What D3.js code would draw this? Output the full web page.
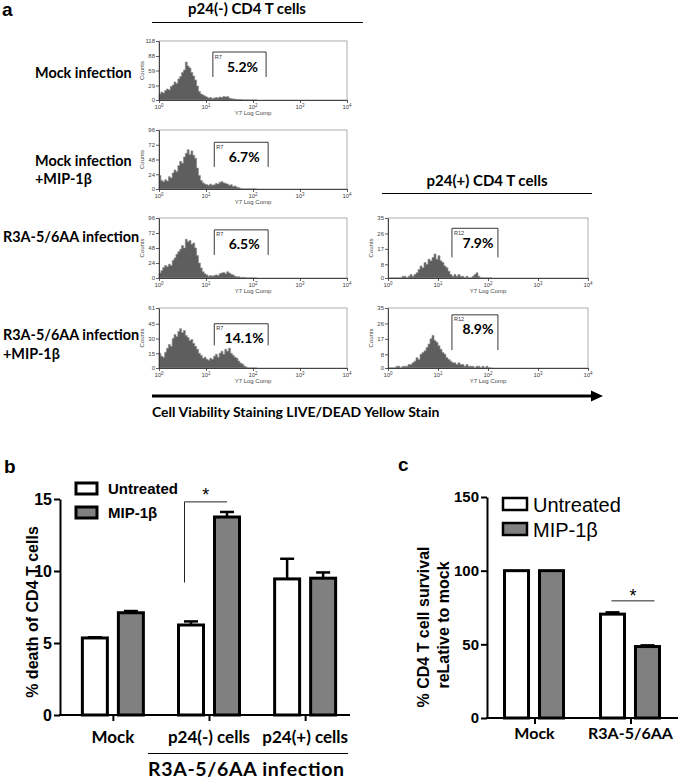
<!DOCTYPE html>
<html><head><meta charset="utf-8">
<script src="https://cdn.jsdelivr.net/npm/d3@7"></script>
<style>body{margin:0;background:#fff} svg{display:block}</style>
</head><body>
<svg id="chart" width="680" height="780"></svg>
<script>
// ================= DATA =================
// Panel a: flow histograms (counts per bin, bins of 0.04 decade starting at 10^0)
const histBinDecades = 0.04;
const hist1 = [12,16,14,19,22,20,27,30,36,33,42,47,55,60,76,68,64,55,48,40,28,17,12,10,8,6,4,5,3,4,5,4,6,5,7,6,7,4,3,2,2,1,1,1,0,0,0,0,0,0,0,0];
const hist2 = [22,14,12,15,13,20,18,26,31,28,38,45,42,52,58,64,56,62,55,50,34,22,14,10,8,7,6,8,6,7,9,8,11,12,10,9,8,6,7,4,5,3,2,1,0,0,0,0,0,0,0,0];
const hist3 = [8,12,17,20,18,22,20,28,32,38,42,46,52,48,62,58,60,54,56,48,36,24,16,10,7,5,3,4,3,4,5,4,7,8,9,7,10,8,6,5,3,2,2,1,1,1,0,0,0,0,0,0];
const hist4 = [15,12,11,16,20,24,22,30,34,32,37,40,36,38,33,31,28,29,25,22,19,15,13,10,11,9,8,10,9,12,14,11,15,17,14,19,17,20,15,13,11,10,7,5,4,2,1,0,0,0,0,0];
const hist5 = [0,0,0,0,0,0,0,1,1,0,1,2,1,2,3,5,7,6,9,8,11,10,12,14,11,13,10,9,7,6,4,2,1,2,1,2,1,1,0,1,0,0,1,2,3,1,0,0,0,0,0,0];
const hist6 = [0,0,0,0,1,1,0,1,1,1,2,2,3,4,6,5,8,9,10,12,14,17,19,16,15,13,11,9,8,6,5,4,3,3,2,3,2,2,1,2,1,1,1,0,1,1,0,1,0,1,0,0];
const histSeries = [hist1, hist2, hist3, hist4, hist5, hist6];
const histMax = [118, 96, 96, 61, 35, 35];
const histYTicks = [[0,29,59,88,118],[0,24,48,72,96],[0,24,48,72,96],[0,15,30,45,61],[0,8,17,26,35],[0,8,17,26,35]];
const histXTicks = [1, 10, 100, 1000, 10000];
const gateNames = ["R7","R7","R7","R7","R12","R12"];
const gatePercents = ["5.2%","6.7%","6.5%","14.1%","7.9%","8.9%"];
const gateLow = [14, 15, 15, 15, 19, 19];
const gateHigh = [190, 210, 210, 210, 158, 158];
const gateTop = [96, 76, 77, 45, 29, 31];
const gateBottom = [46, 36, 37, 23, 12, 10.5];
const rowLabels = [["Mock infection"], ["Mock infection", "+MIP-1β"], ["R3A-5/6AA infection"], ["R3A-5/6AA infection", "+MIP-1β"]];

// Panel b
const bCategories = ["Mock", "p24(-) cells", "p24(+) cells"];
const seriesNames = ["Untreated", "MIP-1β"];
const bUntreated = [5.35, 6.25, 9.45];
const bMIP = [7.1, 13.75, 9.5];
const bUntreatedErr = [0.05, 0.25, 1.4];
const bMIPErr = [0.12, 0.35, 0.4];
const bTicks = [0, 5, 10, 15];
const bSig = {low: 9.2, high: 14.8};

// Panel c
const cCategories = ["Mock", "R3A-5/6AA"];
const cUntreated = [100, 70.5];
const cMIP = [100, 48.5];
const cUntreatedErr = [0, 1.2];
const cMIPErr = [0, 0.8];
const cTicks = [0, 50, 100, 150];
const cSig = 79.5;

// ================= DRAW =================
const svg = d3.select("#chart");
const CAL = "Lato, 'Open Sans', sans-serif";
const ARI = "'Liberation Sans', Arial, sans-serif";
const GRAY = "#808080";

function txt(x, y, s, size, opts = {}) {
  return svg.append("text").attr("x", x).attr("y", y).text(s)
    .attr("font-size", size).attr("font-family", opts.family || ARI)
    .attr("font-weight", opts.weight || "bold")
    .attr("text-anchor", opts.anchor || "start").attr("fill", opts.fill || "#000");
}
function line(x1, y1, x2, y2, w, c) {
  return svg.append("line").attr("x1", x1).attr("y1", y1).attr("x2", x2).attr("y2", y2)
    .attr("stroke", c || "#000").attr("stroke-width", w);
}

// panel letters
txt(2, 16, "a", 19);
txt(4, 473, "b", 19);
txt(398, 471, "c", 19);

// ---------- Panel a ----------
txt(247, 14, "p24(-) CD4 T cells", 15, {family: CAL, anchor: "middle"});
line(152, 22.5, 363, 22.5, 1.2);
txt(487, 186, "p24(+) CD4 T cells", 15, {family: CAL, anchor: "middle"});
line(382, 193.5, 592, 193.5, 1.2);

const rowPos = [{x: 35, y: [78]}, {x: 35, y: [166, 184]}, {x: 3, y: [242]}, {x: 3, y: [340, 359]}];
rowLabels.forEach((lines, i) => {
  lines.forEach((s, j) => txt(rowPos[i].x, rowPos[i].y[j], s, 14.4, {family: CAL}));
});

const histLayout = [
  {x0: 159, x1: 347, top: 41, bottom: 100},
  {x0: 159, x1: 347, top: 130, bottom: 189},
  {x0: 159, x1: 347, top: 218, bottom: 278},
  {x0: 159, x1: 347, top: 308, bottom: 368},
  {x0: 388, x1: 588, top: 218, bottom: 278},
  {x0: 388, x1: 588, top: 308, bottom: 368}
];

histSeries.forEach((counts, k) => {
  const L = histLayout[k];
  const x = d3.scaleLog().domain([1, 10000]).range([L.x0, L.x1]);
  const y = d3.scaleLinear().domain([0, histMax[k]]).range([L.bottom, L.top]);
  const g = svg.append("g");
  // frame
  g.append("rect").attr("x", L.x0).attr("y", L.top).attr("width", L.x1 - L.x0).attr("height", L.bottom - L.top)
    .attr("fill", "none").attr("stroke", "#9a9a9a").attr("stroke-width", 0.8);
  // histogram
  const pts = counts.map((c, i) => ({e: Math.pow(10, i * histBinDecades), c}));
  pts.push({e: Math.pow(10, counts.length * histBinDecades), c: 0});
  const area = d3.area().curve(d3.curveStepAfter).x(d => x(d.e)).y0(y(0)).y1(d => y(d.c));
  g.append("path").datum(pts).attr("d", area).attr("fill", "#5e5e5e")
    .attr("stroke", "#8c8c8c").attr("stroke-width", 0.7);
  // axes
  const ya = g.append("g").attr("transform", `translate(${L.x0},0)`)
    .call(d3.axisLeft(y).tickValues(histYTicks[k]).tickSize(3).tickSizeOuter(0));
  ya.select(".domain").attr("stroke", "#333").attr("stroke-width", 0.9);
  ya.selectAll(".tick line").attr("stroke", "#333").attr("stroke-width", 0.8);
  ya.selectAll("text").attr("font-size", 6).attr("font-family", ARI).attr("fill", "#444").attr("x", -4);
  const xa = g.append("g").attr("transform", `translate(0,${L.bottom})`)
    .call(d3.axisBottom(x).tickValues(histXTicks).tickSize(3).tickSizeOuter(0).tickFormat(""));
  xa.select(".domain").attr("stroke", "#333").attr("stroke-width", 0.9);
  xa.selectAll(".tick line").attr("stroke", "#333").attr("stroke-width", 0.8);
  histXTicks.forEach(v => {
    const t = g.append("text").attr("x", x(v)).attr("y", L.bottom + 9).attr("text-anchor", "middle")
      .attr("font-size", 6).attr("font-family", ARI).attr("fill", "#444");
    t.append("tspan").text("10");
    t.append("tspan").text(Math.round(Math.log10(v))).attr("font-size", 4.5).attr("dy", -2.5);
  });
  g.append("text").attr("x", (L.x0 + L.x1) / 2).attr("y", L.bottom + 15).attr("text-anchor", "middle")
    .attr("font-size", 6).attr("font-family", ARI).attr("fill", "#444").text("Y7 Log Comp");
  g.append("text").attr("transform", `translate(${L.x0 - 15},${(L.top + L.bottom) / 2}) rotate(-90)`)
    .attr("text-anchor", "middle").attr("font-size", 6).attr("font-family", ARI).attr("fill", "#444").text("Counts");
  // gate
  const xl = x(gateLow[k]), xr = x(gateHigh[k]), yt = y(gateTop[k]), yb = y(gateBottom[k]);
  g.append("path").attr("d", `M${xl},${yb}V${yt}H${xr}V${yb}`).attr("fill", "none")
    .attr("stroke", "#222").attr("stroke-width", 0.9);
  g.append("text").attr("x", xl + 2).attr("y", yt + 6.5).attr("font-size", 5.5).attr("font-family", ARI)
    .attr("fill", "#333").text(gateNames[k]);
  g.append("text").attr("x", (xl + xr) / 2 + 3).attr("y", yt + 19.5).attr("text-anchor", "middle")
    .attr("font-size", 14).attr("font-weight", "bold").attr("font-family", CAL).text(gatePercents[k]);
});

// arrow
line(152, 396, 594, 396, 3);
svg.append("path").attr("d", "M603,396 L591,390.5 L591,401.5 Z").attr("fill", "#000");
txt(152, 417, "Cell Viability Staining LIVE/DEAD Yellow Stain", 14, {family: CAL});

// ---------- Bar chart helper ----------
function barChart(cfg) {
  const x = d3.scalePoint().domain(cfg.cats).range(cfg.xr).padding(cfg.pad);
  const sub = d3.scaleBand().domain(seriesNames).range(cfg.sub).paddingInner(cfg.inner);
  const y = d3.scaleLinear().domain(cfg.ydom).range(cfg.yr);
  const g = svg.append("g");
  const rows = [];
  cfg.cats.forEach((c, i) => {
    rows.push({cat: c, s: seriesNames[0], v: cfg.u[i], e: cfg.ue[i]});
    rows.push({cat: c, s: seriesNames[1], v: cfg.m[i], e: cfg.me[i]});
  });
  // error bars
  g.selectAll(".err").data(rows.filter(d => d.e > 0)).join("g").each(function(d) {
    const cx = x(d.cat) + sub(d.s) + sub.bandwidth() / 2;
    const s = d3.select(this);
    s.append("line").attr("x1", cx).attr("x2", cx).attr("y1", y(d.v)).attr("y2", y(d.v + d.e))
      .attr("stroke", "#000").attr("stroke-width", 2.5);
    s.append("line").attr("x1", cx - 7).attr("x2", cx + 7).attr("y1", y(d.v + d.e)).attr("y2", y(d.v + d.e))
      .attr("stroke", "#000").attr("stroke-width", 2.5);
  });
  g.selectAll(".bar").data(rows).join("rect")
    .attr("x", d => x(d.cat) + sub(d.s)).attr("width", sub.bandwidth())
    .attr("y", d => y(d.v)).attr("height", d => y(0) - y(d.v))
    .attr("fill", d => d.s === seriesNames[0] ? "#fff" : GRAY)
    .attr("stroke", "#000").attr("stroke-width", 3);
  // axes
  const ya = g.append("g").attr("transform", `translate(${cfg.xr[0]},0)`)
    .call(d3.axisLeft(y).tickValues(cfg.ticks).tickSize(6).tickSizeOuter(0));
  ya.select(".domain").attr("stroke-width", 2);
  ya.selectAll(".tick line").attr("stroke-width", 2);
  ya.selectAll("text").attr("font-size", cfg.tickFont).attr("font-family", ARI).attr("font-weight", "bold").attr("x", -8);
  const xa = g.append("g").attr("transform", `translate(0,${y(0)})`)
    .call(d3.axisBottom(x).tickSize(6).tickSizeOuter(0).tickFormat(""));
  xa.select(".domain").remove();
  xa.selectAll(".tick line").attr("stroke-width", 2);
  g.append("line").attr("x1", cfg.xr[0] - 1).attr("x2", cfg.axisEnd).attr("y1", y(0)).attr("y2", y(0))
    .attr("stroke", "#000").attr("stroke-width", 2);
  cfg.cats.forEach(c => txt(x(c), cfg.labelY, c, cfg.labelFont, {family: CAL, anchor: "middle"}));
  return {x, sub, y};
}

// ---------- Panel b ----------
const B = barChart({cats: bCategories, xr: [60, 358], pad: 0.55, sub: [-30.5, 30.5], inner: 0.306,
  ydom: [0, 15], yr: [715, 499], u: bUntreated, m: bMIP, ue: bUntreatedErr, me: bMIPErr,
  ticks: bTicks, tickFont: 16, axisEnd: 350, labelY: 743, labelFont: 17});
line(148, 753.5, 348, 753.5, 1.2);
txt(148, 776, "R3A-5/6AA infection", 19.5, {family: CAL}).attr("textLength", 196).attr("lengthAdjust", "spacing");
svg.append("text").attr("transform", "translate(32,612) rotate(-90)").attr("dy", "0.35em")
  .attr("text-anchor", "middle").attr("font-size", 16).attr("font-weight", "bold").attr("font-family", ARI)
  .text("% death of CD4 T cells");
// legend b
[0, 1].forEach(i => {
  svg.append("rect").attr("x", 76).attr("y", 483 + i * 24).attr("width", 21).attr("height", 11)
    .attr("fill", i ? GRAY : "#fff").attr("stroke", "#000").attr("stroke-width", 3);
  txt(108, 494 + i * 24, seriesNames[i], 15);
});
// significance b
{
  const c = "p24(-) cells";
  const xl = B.x(c) + B.sub(seriesNames[0]) + 6;
  const xr = B.x(c) + B.sub(seriesNames[1]) + B.sub.bandwidth() / 2;
  svg.append("path").attr("d", `M${xl},${B.y(bSig.low)}V${B.y(bSig.high)}H${xr}`)
    .attr("fill", "none").attr("stroke", "#222").attr("stroke-width", 1);
  txt((xl + xr) / 2, B.y(bSig.high) - 1, "*", 18, {anchor: "middle", weight: "normal"});
}

// ---------- Panel c ----------
const C = barChart({cats: cCategories, xr: [487, 678], pad: 0.495, sub: [-30, 29], inner: 0.314,
  ydom: [0, 150], yr: [718, 497], u: cUntreated, m: cMIP, ue: cUntreatedErr, me: cMIPErr,
  ticks: cTicks, tickFont: 15, axisEnd: 678, labelY: 739, labelFont: 16});
svg.append("text").attr("transform", "translate(423,627) rotate(-90)").attr("dy", "0.35em")
  .attr("text-anchor", "middle").attr("font-size", 16).attr("font-weight", "bold").attr("font-family", ARI)
  .text("% CD4 T cell survival");
svg.append("text").attr("transform", "translate(443,625) rotate(-90)").attr("dy", "0.35em")
  .attr("text-anchor", "middle").attr("font-size", 16).attr("font-weight", "bold").attr("font-family", ARI)
  .text("reLative to mock");
[0, 1].forEach(i => {
  svg.append("rect").attr("x", 503).attr("y", 498 + i * 25).attr("width", 24).attr("height", 12)
    .attr("fill", i ? GRAY : "#fff").attr("stroke", "#000").attr("stroke-width", 2.5);
  txt(533, 512 + i * 25, seriesNames[i], 20, {weight: "normal"});
});
{
  const c = "R3A-5/6AA";
  const xl = C.x(c) + C.sub(seriesNames[0]) + C.sub.bandwidth() / 2 - 1;
  const xr = C.x(c) + C.sub(seriesNames[1]) + C.sub.bandwidth() / 2 + 7;
  line(xl, C.y(cSig), xr, C.y(cSig), 1, "#222");
  txt((xl + xr) / 2, C.y(cSig) + 1, "*", 18, {anchor: "middle", weight: "normal"});
}
</script>
</body></html>
